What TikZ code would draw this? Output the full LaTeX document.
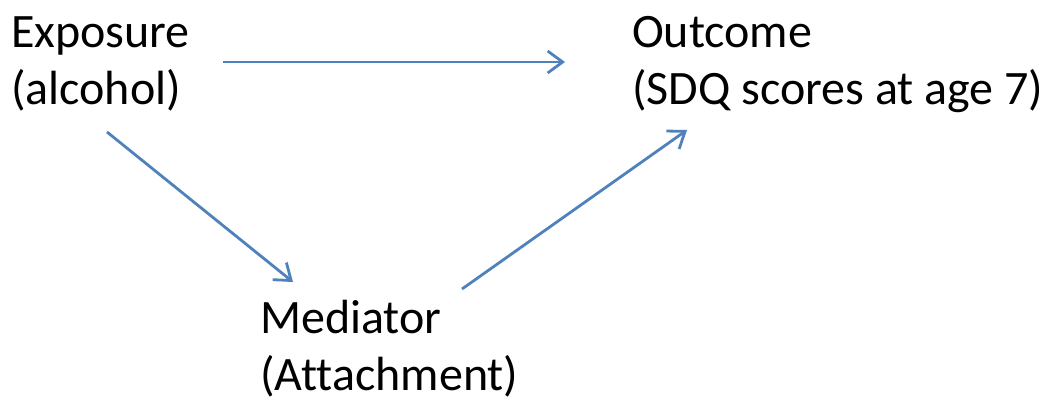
\documentclass[tikz,border=0pt]{standalone}
\usepackage{fontspec}
\setmainfont{Carlito}[Ligatures=NoCommon]
\usetikzlibrary{arrows.meta}
\definecolor{linkblue}{RGB}{79,129,189}
\tikzset{
  label text/.style={inner sep=0pt, anchor=base west, align=left,
    font=\fontsize{48pt}{57pt}\selectfont, text=black},
  link/.style={draw=linkblue, line width=2.8pt,
    -{Straight Barb[length=15pt,width=22pt]}}
}
\begin{document}
\begin{tikzpicture}[x=1pt,y=-1pt]
  \useasboundingbox (0,0) rectangle (1047,399);
  % base anchor sits on the last line of each two-line label
  \node[label text] (exp) at (11,104) {Exposure\\(alcohol)};
  \node[label text] (out) at (632,104) {Outcome\\(SDQ scores at age 7)};
  \node[label text] (med) at (260,390) {Mediator\\(Attachment)};
  \coordinate (a1) at (223,62);
  \coordinate (b1) at (565,62);
  \coordinate (a2) at (107,132);
  \coordinate (b2) at (293,282);
  \coordinate (a3) at (462,289);
  \coordinate (b3) at (687,130);
  \draw[link] (a1) -- (b1);
  \draw[link] (a2) -- (b2);
  \draw[link] (a3) -- (b3);
\end{tikzpicture}
\end{document}
